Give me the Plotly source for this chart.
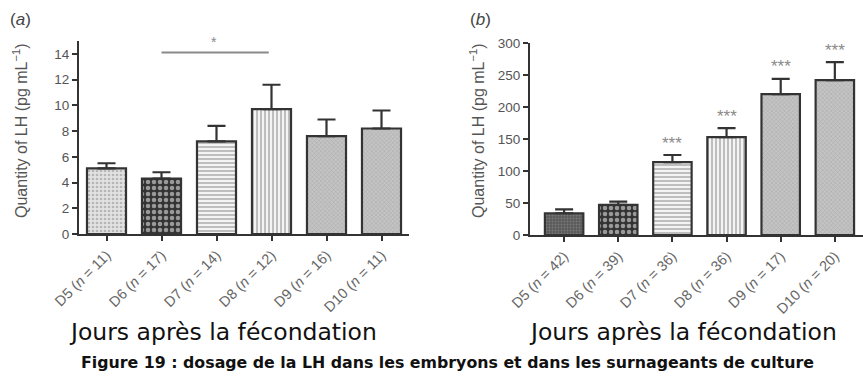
import plotly.graph_objects as go

# ---- data ----
days = ["D5", "D6", "D7", "D8", "D9", "D10"]
n_a = [11, 17, 14, 12, 16, 11]
n_b = [42, 39, 36, 36, 17, 20]
vals_a = [5.1, 4.3, 7.2, 9.7, 7.6, 8.2]
err_a = [0.4, 0.5, 1.2, 1.9, 1.3, 1.4]
vals_b = [34, 47, 114, 153, 220, 242]
err_b = [6, 5, 11, 14, 24, 28]
stars_b = ["", "", "***", "***", "***", "***"]
yticks_a = [0, 2, 4, 6, 8, 10, 12, 14]
yticks_b = [0, 50, 100, 150, 200, 250, 300]

W, H = 863, 379
DARK = "#333333"
GRAY = "#555555"
SANS = "Liberation Sans, Arial"

def px_x(p):
    return p / W

def px_y(p):
    return 1 - p / H

labels_a = [f"{d} (<i>n</i> = {n})" for d, n in zip(days, n_a)]
labels_b = [f"{d} (<i>n</i> = {n})" for d, n in zip(days, n_b)]

patterns = [
    dict(shape=".", fgcolor="#8a8a8a", bgcolor="#e2e2e2", size=4, solidity=0.35),
    dict(shape=".", fgcolor="#ffffff", bgcolor="#333333", size=6, solidity=0.45),
    dict(shape="-", fgcolor="#6e6e6e", bgcolor="#f4f4f4", size=4, solidity=0.4),
    dict(shape="|", fgcolor="#6e6e6e", bgcolor="#f4f4f4", size=4, solidity=0.4),
    dict(shape="x", fgcolor="#8c8c8c", bgcolor="#c4c4c4", size=3, solidity=0.3),
    dict(shape="x", fgcolor="#8c8c8c", bgcolor="#c4c4c4", size=3, solidity=0.3),
]
patterns_b = [dict(shape=".", fgcolor="#9a9a9a", bgcolor="#5a5a5a", size=3, solidity=0.3)] + patterns[1:]

fig = go.Figure()

def add_bars(xaxis, yaxis, labels, vals, errs, pats):
    for i in range(len(labels)):
        fig.add_trace(go.Bar(
            x=[labels[i]], y=[vals[i]],
            xaxis=xaxis, yaxis=yaxis,
            width=0.71,
            marker=dict(color=pats[i]["bgcolor"], line=dict(color=DARK, width=2.2),
                        pattern=pats[i]),
            error_y=dict(type="data", array=[errs[i]], arrayminus=[0], symmetric=False,
                         color=DARK, thickness=2.2, width=9),
            showlegend=False, hoverinfo="skip",
        ))

add_bars("x", "y", labels_a, vals_a, err_a, patterns)
add_bars("x2", "y2", labels_b, vals_b, err_b, patterns_b)

axis_common = dict(showline=True, linecolor=DARK, linewidth=2.2, ticks="outside",
                   tickcolor=DARK, tickwidth=2, ticklen=5, showgrid=False, zeroline=False,
                   automargin=False,
                   tickfont=dict(family=SANS, size=13.5, color=GRAY))

fig.update_layout(
    width=W, height=H, margin=dict(l=0, r=0, t=0, b=0),
    paper_bgcolor="white", plot_bgcolor="white",
    barmode="overlay",
    xaxis=dict(domain=[px_x(79), px_x(409)], range=[-0.5, 5.5], tickangle=-45,
               categoryorder="array", categoryarray=labels_a, **axis_common),
    yaxis=dict(domain=[px_y(234), px_y(41)], range=[0, 15], tickvals=yticks_a,
               anchor="x", **axis_common),
    xaxis2=dict(domain=[px_x(530), px_x(863)], range=[-0.63, 5.52], tickangle=-45,
                anchor="y2", categoryorder="array", categoryarray=labels_b, **axis_common),
    yaxis2=dict(domain=[px_y(235), px_y(43)], range=[0, 300], tickvals=yticks_b,
                anchor="x2", **axis_common),
)
fig.update_xaxes(tickfont=dict(size=14.5, color="#666666"))

# significance line in panel (a) between D6 and D8
fig.add_shape(type="line", xref="x", yref="y", x0=1, x1=2.95, y0=14.1, y1=14.1,
              line=dict(color="#8a8a8a", width=2))
fig.add_annotation(xref="x", yref="y", x=1.95, y=14.1, text="*", showarrow=False,
                   xanchor="center", yanchor="middle", yshift=11,
                   font=dict(size=14, color="#888888", family=SANS))

# stars in panel (b)
for i, s in enumerate(stars_b):
    if s:
        fig.add_annotation(xref="x2", yref="y2", x=labels_b[i], y=vals_b[i] + err_b[i],
                           text=s, showarrow=False, xanchor="center", yanchor="middle",
                           yshift=12, font=dict(size=17, color="#8a8a8a", family=SANS))

def note(x, y, text, size, color, family, angle=0):
    fig.add_annotation(xref="paper", yref="paper", x=px_x(x), y=px_y(y), text=text,
                       textangle=angle, showarrow=False, xanchor="center", yanchor="middle",
                       font=dict(size=size, color=color, family=family))

# axis titles
ytitle = "Quantity of LH (pg mL<sup>\u22121</sup>)"
note(20, 131, ytitle, 16, GRAY, SANS, -90)
note(477, 131, ytitle, 16, GRAY, SANS, -90)

# panel labels
note(20, 19, "(<i>a</i>)", 17, "#444444", SANS)
note(480, 19, "(<i>b</i>)", 17, "#444444", SANS)

# bottom texts
xlabel = "Jours après la fécondation"
note(223, 332, xlabel, 23.5, "#111111", "DejaVu Sans")
note(683, 332, xlabel, 23.5, "#111111", "DejaVu Sans")
note(448, 362, "<b>Figure 19 : dosage de la LH dans les embryons et dans les surnageants de culture</b>",
     15.8, "#111111", "DejaVu Sans")

fig.write_html("out.html")
